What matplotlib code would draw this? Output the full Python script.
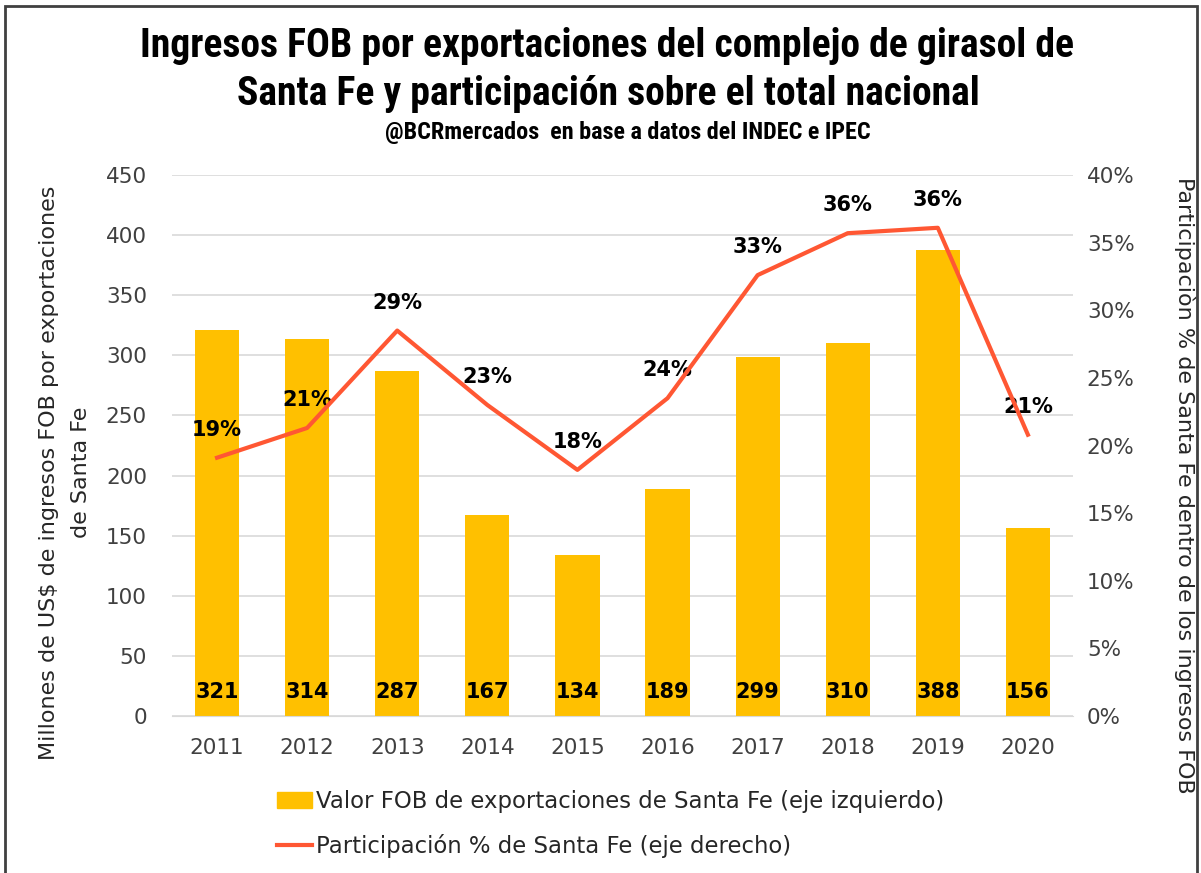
import matplotlib.pyplot as plt
from matplotlib import font_manager
from matplotlib.patches import Rectangle, Patch
from matplotlib.lines import Line2D

years = ['2011', '2012', '2013', '2014', '2015', '2016', '2017', '2018', '2019', '2020']
fob = [321, 314, 287, 167, 134, 189, 299, 310, 388, 156]
share = [19.1, 21.3, 28.5, 23.0, 18.2, 23.5, 32.6, 35.7, 36.1, 20.8]
share_labels = ['19%', '21%', '29%', '23%', '18%', '24%', '33%', '36%', '36%', '21%']

BAR_C = '#FFC000'
LINE_C = '#FF5733'

# narrow font for the title if one is around
names = {f.name for f in font_manager.fontManager.ttflist}
title_font = 'DejaVu Sans'
for cand in ['Roboto Condensed', 'Liberation Sans Narrow', 'DejaVu Sans Condensed']:
    if cand in names:
        title_font = cand
        break

plt.rcParams['font.family'] = ['DejaVu Sans']

fig = plt.figure(figsize=(12.01, 8.73), dpi=100)
ax = fig.add_axes([0.1432, 0.1798, 0.7502, 0.6197])
ax2 = ax.twinx()

x = list(range(len(years)))
ax.bar(x, fob, width=0.49, color=BAR_C, zorder=2)
ax.set_ylim(0, 450)
ax.set_yticks(range(0, 451, 50))
ax.set_xlim(-0.5, 9.5)
ax.set_xticks(x)
ax.set_xticklabels(years)
ax.grid(axis='y', color='#D9D9D9', lw=1.2, zorder=0)
ax.set_axisbelow(True)
for s in ['top', 'right', 'left']:
    ax.spines[s].set_visible(False)
ax.spines['bottom'].set_color('#D9D9D9')
ax.tick_params(axis='y', length=0, labelsize=15.5, colors='#404040', pad=18)
ax.tick_params(axis='x', length=0, labelsize=15.5, colors='#404040', pad=16)
for xi, v in zip(x, fob):
    ax.text(xi, 20, str(v), ha='center', va='center', fontsize=15,
            fontweight='bold', color='black', zorder=3)

ax2.plot(x, share, color=LINE_C, lw=3, zorder=4)
ax2.set_ylim(0, 40)
ax2.set_yticks(range(0, 41, 5))
ax2.set_yticklabels([f'{t}%' for t in range(0, 41, 5)])
for s in ax2.spines.values():
    s.set_visible(False)
ax2.tick_params(length=0, labelsize=15.5, colors='#404040', pad=10)
for xi, v, lab in zip(x, share, share_labels):
    ax2.annotate(lab, (xi, v), xytext=(0, 20), textcoords='offset points',
                 ha='center', va='center', fontsize=15, fontweight='bold')

ax.set_ylabel('Millones de US\\$ de ingresos FOB por exportaciones\nde Santa Fe',
              fontsize=16, color='#262626', linespacing=1.75, va='center')
ax.yaxis.set_label_coords(-0.119, 0.45)
ax2.set_ylabel('Participaciòn % de Santa Fe dentro de los ingresos FOB',
               fontsize=16, color='#262626', rotation=-90, va='center')
ax2.yaxis.set_label_coords(1.124, 0.427)

fig.text(0.5058, 0.9347, 'Ingresos FOB por exportaciones del complejo de girasol de',
         ha='center', va='baseline', fontsize=28.5, fontweight='bold', fontfamily=title_font)
fig.text(0.5062, 0.8797, 'Santa Fe y participación sobre el total nacional',
         ha='center', va='baseline', fontsize=28.5, fontweight='bold', fontfamily=title_font)
fig.text(0.5225, 0.8408, '@BCRmercados  en base a datos del INDEC e IPEC',
         ha='center', va='baseline', fontsize=17.4, fontweight='bold', fontfamily=title_font)

handles = [Patch(color=BAR_C), Line2D([], [], color=LINE_C, lw=3)]
labels = ['Valor FOB de exportaciones de Santa Fe (eje izquierdo)',
          'Participación % de Santa Fe (eje derecho)']
fig.legend(handles, labels, loc='upper left', bbox_to_anchor=(0.2306, 0.0951),
           frameon=False, fontsize=16.4, handlelength=1.53, handletextpad=0.2,
           labelspacing=0.93, labelcolor='#262626', borderaxespad=0, borderpad=0)

fig.patches.append(Rectangle((0.004, -0.01), 0.993, 1.003, transform=fig.transFigure,
                             fill=False, edgecolor='#404040', lw=2))

fig.savefig('out.png', dpi=100)
